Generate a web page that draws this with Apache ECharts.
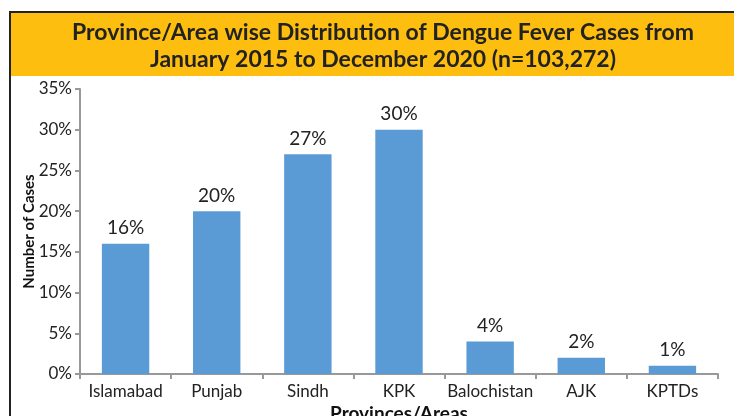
<!DOCTYPE html>
<html lang="en">
<head>
<meta charset="UTF-8">
<title>Dengue by province</title>
<style>
  html, body { margin: 0; padding: 0; background: #fff; }
  #main { width: 734px; height: 416px; }
</style>
</head>
<body>
<div id="main"></div>
<script src="https://cdn.jsdelivr.net/npm/echarts@6/dist/echarts.min.js"></script>
<script>
// data
var provinces = ['Islamabad', 'Punjab', 'Sindh', 'KPK', 'Balochistan', 'AJK', 'KPTDs'];
var shares = [16, 20, 27, 30, 4, 2, 1];
var titleLines = ['Province/Area wise Distribution of Dengue Fever Cases from', 'January 2015 to December 2020 (n=103,272)'];

var chart = echarts.init(document.getElementById('main'));
var font = 'Lato, "Open Sans", sans-serif';

var option = {
  backgroundColor: '#fff',
  animation: false,
  graphic: [
    // black frame (left + top)
    { type: 'rect', left: 9, top: 11, shape: { width: 740, height: 420 },
      style: { fill: '#fff', stroke: '#222', lineWidth: 2 }, z: 0 },
    // orange title band
    { type: 'rect', left: 11, top: 13, shape: { width: 730, height: 63 },
      style: { fill: '#FDBE10' }, z: 1 }
  ],
  title: {
    text: titleLines.join('\n'),
    left: 378, top: 14, textAlign: 'center',
    textStyle: { fontFamily: font, fontSize: 23, fontWeight: 'bold', color: '#222', lineHeight: 27 },
    z: 5
  },
  grid: { left: 80, right: 16, top: 89, bottom: 42, containLabel: false, outerBoundsMode: 'none' },
  xAxis: {
    type: 'category',
    data: provinces,
    name: 'Provinces/Areas',
    nameLocation: 'middle',
    nameMoveOverlap: false,
    nameGap: 30,
    nameTextStyle: { fontFamily: font, fontSize: 19, fontWeight: 'bold', color: '#111' },
    axisLine: { lineStyle: { color: '#999', width: 2 } },
    axisTick: { show: true, length: 5, lineStyle: { color: '#999', width: 2 } },
    axisLabel: { interval: 0, fontFamily: font, fontSize: 17, color: '#222', margin: 9 }
  },
  yAxis: {
    type: 'value',
    min: 0, max: 35, interval: 5,
    name: 'Number of Cases',
    nameLocation: 'middle',
    nameMoveOverlap: false,
    nameGap: 43,
    nameTextStyle: { fontFamily: font, fontSize: 15, fontWeight: 'bold', color: '#111' },
    axisLine: { show: true, lineStyle: { color: '#999', width: 2 } },
    axisTick: { show: true, length: 5, lineStyle: { color: '#999', width: 2 } },
    splitLine: { show: false },
    axisLabel: { fontFamily: font, fontSize: 17, color: '#222', margin: 8, formatter: '{value}%' }
  },
  series: [{
    type: 'bar',
    data: shares,
    barWidth: '52%',
    itemStyle: { color: '#5B9BD5' },
    label: {
      show: true, position: 'top', distance: 6,
      fontFamily: font, fontSize: 19, color: '#222',
      formatter: '{c}%'
    }
  }]
};

chart.setOption(option);
</script>
</body>
</html>
